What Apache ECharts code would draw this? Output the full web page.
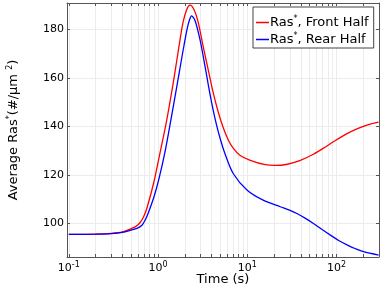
<!DOCTYPE html>
<html>
<head>
<meta charset="utf-8">
<script src="https://cdn.jsdelivr.net/npm/echarts@6/dist/echarts.min.js"></script>
<style>
html,body{margin:0;padding:0;background:#fff;}
#chart{width:382px;height:286px;}
</style>
</head>
<body>
<div id="chart"></div>
<script>
// Time (s) and values
var timeFront = [0.1, 0.2, 0.3, 0.4, 0.5, 0.56, 0.628, 0.69, 0.752, 0.902, 1.053, 1.23, 1.437, 1.552, 1.678, 1.91, 2.118, 2.289, 2.538, 2.815, 3.203, 3.646, 4.15, 4.723, 5.374, 6.116, 6.96, 8.342, 10.81, 15.93, 20.64, 28.14, 39.4, 55.15, 75.22, 97.46, 129.6, 172.2, 228.8, 296.4];
var frontHalf = [95.5, 95.6, 95.9, 96.5, 97.9, 98.7, 100.3, 102.8, 106.4, 117.3, 129.1, 141, 155, 162.5, 170.5, 182.9, 188.4, 189.9, 188, 183, 173, 163.5, 154, 146, 139.5, 134.5, 131, 128, 126, 124.2, 123.9, 124.4, 126.0, 128.5, 131.5, 134.2, 136.9, 139.1, 140.7, 141.7];
var timeRear = [0.1, 0.2, 0.3, 0.4, 0.5, 0.58, 0.661, 0.72, 0.772, 0.902, 1.026, 1.198, 1.4, 1.635, 1.813, 1.96, 2.118, 2.23, 2.379, 2.604, 2.965, 3.375, 3.84, 4.37, 4.97, 5.66, 6.96, 10.0, 15.1, 23.5, 29.3, 36.5, 45, 55.2, 68.5, 85.7, 106, 133, 164, 201, 297];
var rearHalf = [95.5, 95.6, 95.8, 96.3, 97.3, 98.0, 99.3, 101.5, 104, 111, 118.5, 129.5, 143, 157, 166.5, 173.5, 180, 183.3, 185.5, 183.5, 175.5, 164.5, 153, 143, 135, 128.5, 120.6, 113.7, 109.6, 106.9, 105.6, 104.0, 102.1, 100.0, 97.6, 95.2, 93.0, 91.1, 89.6, 88.4, 87.0];
var seriesNames = ['Front Half', 'Rear Half'];
var xMajorExp = [-1, 0, 1, 2];
var yTicks = [100, 120, 140, 160, 180];

var xMin = Math.log10(0.0955), xMax = Math.log10(300);
var yMin = 86.2, yMax = 190.8;

var minorTicks = [];
for (var n = -2; n <= 2; n++) {
  for (var k = 1; k <= 9; k++) {
    var v = Math.log10(k * Math.pow(10, n));
    if (v >= xMin && v <= xMax) minorTicks.push(v);
  }
}
function toPts(ts, vs) { return ts.map(function (t, i) { return [Math.log10(t), vs[i]]; }); }

var FONT = 'DejaVu Sans';
var axisCol = '#555';
var sup = { fontSize: 8, verticalAlign: 'top', padding: [0, 0, 6, 0], fontFamily: FONT, color: '#000' };

var chart = echarts.init(document.getElementById('chart'), null, { renderer: 'canvas' });
chart.setOption({
  animation: false,
  backgroundColor: '#fff',
  grid: { left: 67, right: 3, top: 3, bottom: 29, containLabel: false, outerBoundsMode: 'none' },
  legend: {
    left: 253, top: 7,
    orient: 'vertical',
    backgroundColor: '#fff',
    borderColor: '#444', borderWidth: 1, borderRadius: 0,
    padding: [8, 5, 2, 3],
    itemGap: 3,
    itemWidth: 13, itemHeight: 1.5,
    icon: 'rect',
    textStyle: { fontFamily: FONT, fontSize: 13, color: '#000', padding: [0, 0, 0, -4],
      rich: { sup: { fontSize: 8, verticalAlign: 'top', padding: [0, 0, 7, 0], fontFamily: FONT } } },
    formatter: function (name) { return 'Ras{sup|*}, ' + name; },
    data: seriesNames
  },
  xAxis: [{
    type: 'value', min: xMin, max: xMax, position: 'bottom',
    name: 'Time (s)', nameLocation: 'middle', nameGap: 16, nameMoveOverlap: false,
    nameTextStyle: { fontFamily: FONT, fontSize: 13, color: '#000' },
    axisLine: { show: true, onZero: false, lineStyle: { color: axisCol, width: 1 } },
    axisTick: { show: true, inside: true, length: 3, customValues: minorTicks, lineStyle: { color: axisCol } },
    axisLabel: { show: true, margin: 4, customValues: xMajorExp, fontFamily: FONT, fontSize: 11, color: '#000',
      formatter: function (v) { return '10{sup|' + Math.round(v) + '}'; },
      rich: { sup: sup } },
    splitLine: { show: true, lineStyle: { color: '#ececec', width: 1 } }
  }, {
    type: 'value', min: xMin, max: xMax, position: 'top',
    axisLine: { show: true, onZero: false, lineStyle: { color: axisCol, width: 1 } },
    axisTick: { show: true, inside: true, length: 3, customValues: minorTicks, lineStyle: { color: axisCol } },
    axisLabel: { show: false },
    splitLine: { show: false }
  }],
  yAxis: [{
    type: 'value', min: yMin, max: yMax, position: 'left',
    name: 'Average Ras{sup|*}(#/µm {sup|2})', nameLocation: 'middle', nameRotate: 90, nameGap: 46, nameMoveOverlap: false,
    nameTextStyle: { fontFamily: FONT, fontSize: 13, color: '#000', rich: { sup: { fontSize: 8, verticalAlign: 'top', padding: [0, 0, 7, 0], fontFamily: FONT } } },
    axisLine: { show: true, onZero: false, lineStyle: { color: axisCol, width: 1 } },
    axisTick: { show: true, inside: true, length: 3, customValues: yTicks, lineStyle: { color: axisCol } },
    axisLabel: { show: true, margin: 3, customValues: yTicks, fontFamily: FONT, fontSize: 11, color: '#000' },
    splitLine: { show: true, lineStyle: { color: '#ececec', width: 1 } }
  }, {
    type: 'value', min: yMin, max: yMax, position: 'right',
    axisLine: { show: true, onZero: false, lineStyle: { color: axisCol, width: 1 } },
    axisTick: { show: true, inside: true, length: 3, customValues: yTicks, lineStyle: { color: axisCol } },
    axisLabel: { show: false },
    splitLine: { show: false }
  }],
  series: [{
    name: seriesNames[0], type: 'line', smooth: 0.3, showSymbol: false, symbol: 'none',
    xAxisIndex: 0, yAxisIndex: 0,
    lineStyle: { color: '#ff0000', width: 1.3 }, itemStyle: { color: '#ff0000' },
    data: toPts(timeFront, frontHalf), z: 3
  }, {
    name: seriesNames[1], type: 'line', smooth: 0.3, showSymbol: false, symbol: 'none',
    xAxisIndex: 0, yAxisIndex: 0,
    lineStyle: { color: '#0000ff', width: 1.3 }, itemStyle: { color: '#0000ff' },
    data: toPts(timeRear, rearHalf), z: 4
  }]
});
</script>
</body>
</html>
